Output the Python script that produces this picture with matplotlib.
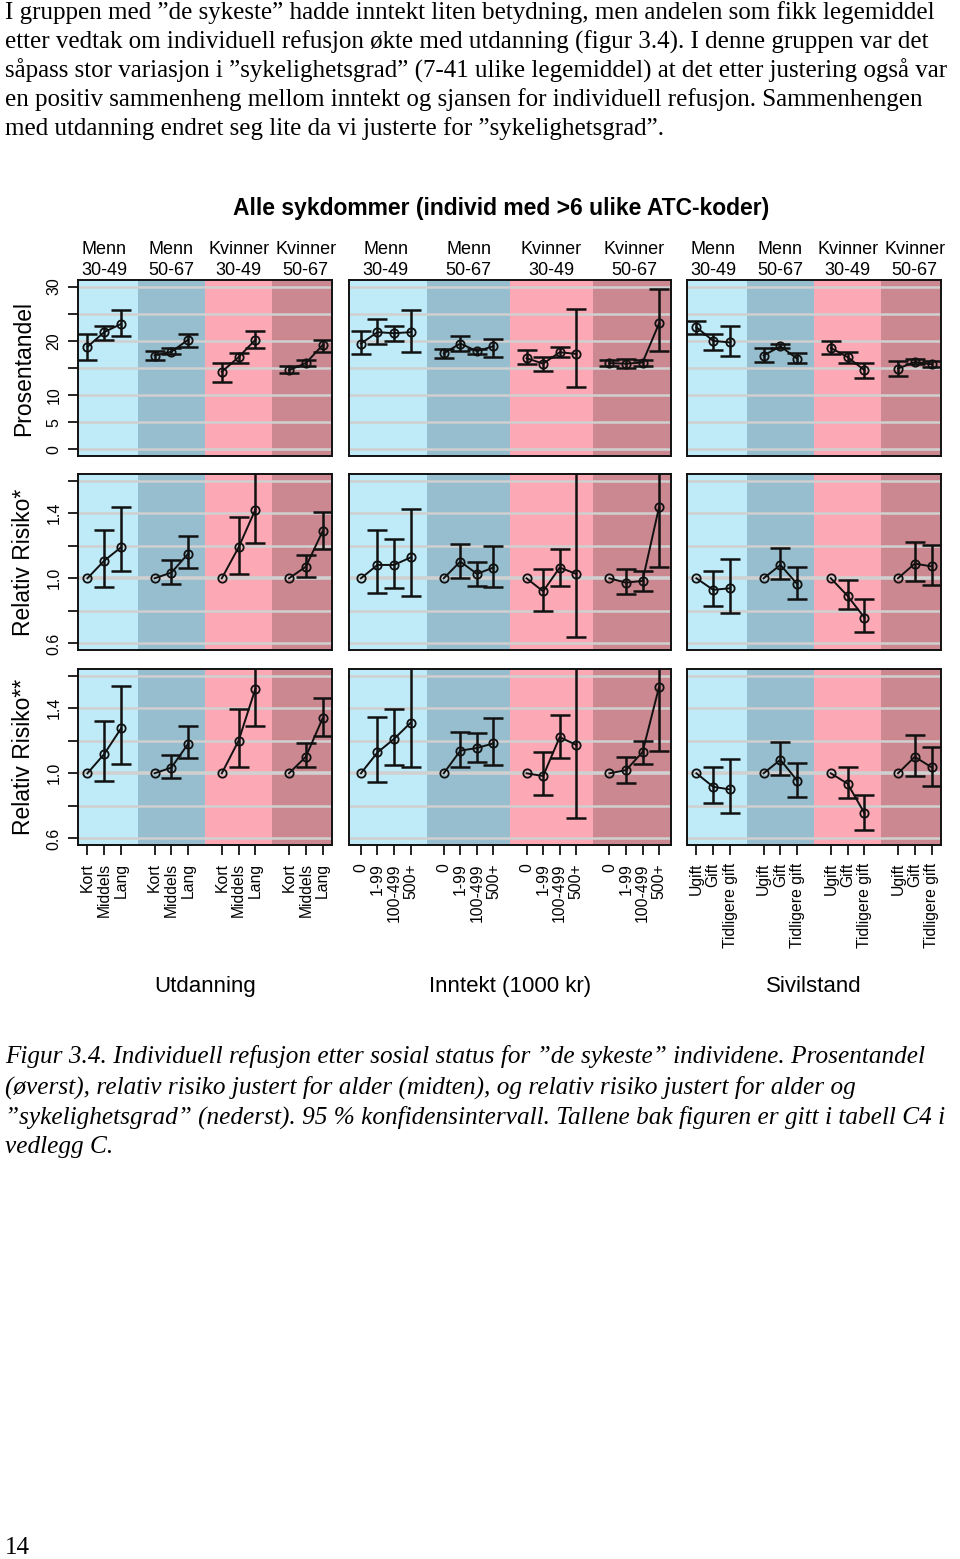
"""Individuell refusjon etter sosial status for "de sykeste" (figur 3.4)."""

import matplotlib

matplotlib.use("Agg")
import matplotlib.pyplot as plt
import numpy as np

nan = np.nan

# --- Data ---------------------------------------------------------------------
GROUPS = ["Menn\n30-49", "Menn\n50-67", "Kvinner\n30-49", "Kvinner\n50-67"]
EDU_CATS = ["Kort", "Middels", "Lang"]
INC_CATS = ["0", "1-99", "100-499", "500+"]
CIV_CATS = ["Ugift", "Gift", "Tidligere gift"]
PANEL_TITLES = ["Utdanning", "Inntekt (1000 kr)", "Sivilstand"]
ROW_LABELS = ["Prosentandel", "Relativ Risiko*", "Relativ Risiko**"]

# Prosentandel
EDU_PCT = [18.9, 21.6, 23.1, 17.3, 18.0, 20.2, 14.3, 17.0, 20.2, 14.6, 15.9, 19.2]
EDU_PCT_LO = [16.4, 20.2, 20.8, 16.4, 17.6, 18.9, 12.4, 15.9, 18.6, 14.0, 15.4, 18.0]
EDU_PCT_HI = [21.2, 22.7, 25.6, 18.2, 18.6, 21.2, 15.9, 17.8, 21.9, 15.4, 16.4, 20.2]

INC_PCT = [19.5, 21.6, 21.4, 21.6, 17.7, 19.5, 18.1, 19.0,
           16.8, 15.8, 17.9, 17.6, 15.9, 15.8, 16.0, 23.2]
INC_PCT_LO = [17.6, 19.5, 20.0, 17.9, 16.8, 18.2, 17.6, 17.0,
              15.7, 14.4, 17.1, 11.5, 15.4, 15.0, 15.4, 18.2]
INC_PCT_HI = [21.8, 24.0, 22.7, 25.6, 18.5, 20.8, 18.5, 20.4,
              18.4, 17.0, 18.8, 25.9, 16.5, 16.7, 16.5, 29.6]

CIV_PCT = [22.5, 20.0, 19.7, 17.3, 19.0, 16.7, 18.7, 17.0, 14.6, 14.9, 16.1, 15.7]
CIV_PCT_LO = [21.2, 18.4, 17.3, 16.1, 18.6, 15.9, 17.6, 15.9, 13.2, 13.5, 15.7, 15.1]
CIV_PCT_HI = [23.7, 21.2, 22.7, 18.6, 19.4, 17.7, 19.9, 18.0, 16.0, 16.3, 16.6, 16.3]

# Relativ risiko justert for alder
EDU_RR1 = [1.0, 1.108, 1.19, 1.0, 1.035, 1.151, 1.0, 1.19, 1.422, 1.0, 1.071, 1.288]
EDU_RR1_LO = [nan, 0.947, 1.047, nan, 0.963, 1.065, nan, 1.027, 1.218, nan, 1.010, 1.18]
EDU_RR1_HI = [nan, 1.296, 1.439, nan, 1.110, 1.261, nan, 1.378, 1.75, nan, 1.143, 1.404]

INC_RR1 = [1.0, 1.082, 1.082, 1.128, 1.0, 1.103, 1.027, 1.066,
           1.0, 0.92, 1.066, 1.027, 1.0, 0.973, 0.984, 1.437]
INC_RR1_LO = [nan, 0.909, 0.938, 0.891, nan, 1.0, 0.955, 0.946,
              nan, 0.80, 0.955, 0.639, nan, 0.901, 0.922, 1.072]
INC_RR1_HI = [nan, 1.299, 1.243, 1.427, nan, 1.208, 1.101, 1.2,
              nan, 1.056, 1.181, 1.9, nan, 1.054, 1.045, 1.9]

CIV_RR1 = [1.0, 0.929, 0.939, 1.0, 1.082, 0.965, 1.0, 0.892, 0.759, 1.0, 1.09, 1.073]
CIV_RR1_LO = [nan, 0.831, 0.784, nan, 0.994, 0.876, nan, 0.814, 0.669, nan, 0.984, 0.957]
CIV_RR1_HI = [nan, 1.045, 1.116, nan, 1.188, 1.069, nan, 0.99, 0.873, nan, 1.224, 1.206]

# Relativ risiko justert for alder og sykelighetsgrad
EDU_RR2 = [1.0, 1.118, 1.275, 1.0, 1.035, 1.182, 1.0, 1.2, 1.519, 1.0, 1.101, 1.337]
EDU_RR2_LO = [nan, 0.955, 1.056, nan, 0.973, 1.093, nan, 1.037, 1.291, nan, 1.037, 1.227]
EDU_RR2_HI = [nan, 1.32, 1.537, nan, 1.11, 1.291, nan, 1.393, 1.8, nan, 1.186, 1.463]

INC_RR2 = [1.0, 1.128, 1.211, 1.31, 1.0, 1.139, 1.155, 1.184,
           1.0, 0.983, 1.222, 1.174, 1.0, 1.019, 1.13, 1.53]
INC_RR2_LO = [nan, 0.948, 1.048, 1.039, nan, 1.037, 1.072, 1.048,
              nan, 0.865, 1.091, 0.727, nan, 0.938, 1.056, 1.139]
INC_RR2_HI = [nan, 1.348, 1.395, 1.75, nan, 1.255, 1.246, 1.34,
              nan, 1.128, 1.356, 1.85, nan, 1.101, 1.199, 2.0]

CIV_RR2 = [1.0, 0.917, 0.901, 1.0, 1.083, 0.955, 1.0, 0.936, 0.756, 1.0, 1.101, 1.037]
CIV_RR2_LO = [nan, 0.818, 0.754, nan, 0.992, 0.855, nan, 0.849, 0.655, nan, 0.981, 0.919]
CIV_RR2_HI = [nan, 1.037, 1.085, nan, 1.192, 1.064, nan, 1.037, 0.864, nan, 1.237, 1.161]

PARA_LINES = [
    "I gruppen med \u201dde sykeste\u201d hadde inntekt liten betydning, men andelen som fikk legemiddel",
    "etter vedtak om individuell refusjon økte med utdanning (figur 3.4). I denne gruppen var det",
    "såpass stor variasjon i \u201dsykelighetsgrad\u201d (7-41 ulike legemiddel) at det etter justering også var",
    "en positiv sammenheng mellom inntekt og sjansen for individuell refusjon. Sammenhengen",
    "med utdanning endret seg lite da vi justerte for \u201dsykelighetsgrad\u201d.",
]
CAPTION_LINES = [
    "Figur 3.4. Individuell refusjon etter sosial status for \u201dde sykeste\u201d individene. Prosentandel",
    "(øverst), relativ risiko justert for alder (midten), og relativ risiko justert for alder og",
    "\u201dsykelighetsgrad\u201d (nederst). 95 % konfidensintervall. Tallene bak figuren er gitt i tabell C4 i",
    "vedlegg C.",
]
TITLE = "Alle sykdommer (individ med >6 ulike ATC-koder)"
PAGE_NO = "14"

# --- Style --------------------------------------------------------------------
W, H = 960, 1559
BAND_COLORS = ["#bfeaf8", "#97bece", "#fca8b5", "#cc8890"]
GRID_COLOR = "#d0d0d0"
SANS = "Liberation Sans"
SERIF = "Liberation Serif"

PANEL_X = [(78, 332), (349, 671), (687, 941)]
ROW_Y = [(280, 456), (474, 650), (669, 845)]

PCT_TICKS = [0, 5, 10, 15, 20, 25, 30]
PCT_LABELS = ["0", "5", "10", "", "20", "", "30"]
RR_TICKS = [0.6, 0.8, 1.0, 1.2, 1.4, 1.6]
RR_LABELS = ["0.6", "", "1.0", "", "1.4", ""]


def positions(n_cats):
    """x positions: groups of n_cats separated by one empty slot."""
    return np.array([g * (n_cats + 1) + i + 1 for g in range(4) for i in range(n_cats)])


def draw_panel(ax, cats, vals, lo, hi, row):
    k = len(cats)
    x = positions(k)
    last = x[-1]
    pad = 0.04 * (last - 1)
    xlim = (1 - pad, last + pad)
    edges = [xlim[0], k + 1, 2 * (k + 1), 3 * (k + 1), xlim[1]]
    for i, col in enumerate(BAND_COLORS):
        ax.axvspan(edges[i], edges[i + 1], color=col, lw=0, zorder=0.2)

    vals = np.asarray(vals, dtype=float)
    lo = np.asarray(lo, dtype=float)
    hi = np.asarray(hi, dtype=float)
    m = np.isfinite(lo)
    ax.errorbar(x[m], vals[m], yerr=[vals[m] - lo[m], hi[m] - vals[m]], fmt="none",
                ecolor="#111111", elinewidth=1.8, capsize=7.5, capthick=1.8, zorder=3)
    for g in range(4):
        sl = slice(g * k, (g + 1) * k)
        ax.plot(x[sl], vals[sl], "-o", color="#111111", lw=1.4, ms=6, mfc="none",
                mew=1.3, zorder=4)

    ax.set_xlim(*xlim)
    if row == 0:
        ax.set_ylim(-1.2, 31.2)
        ax.set_yticks(PCT_TICKS)
    else:
        ax.set_ylim(0.56, 1.64)
        ax.set_yticks(RR_TICKS)
    for t in ax.get_yticks():
        lw = 2.6 if (row > 0 and abs(t - 1.0) < 1e-9) else 1.8
        ax.axhline(t, color=GRID_COLOR, lw=lw, zorder=0.5)
    for s in ax.spines.values():
        s.set_linewidth(1.4)
        s.set_color("#111111")
    ax.set_xticks(x)
    return x


def main():
    fig = plt.figure(figsize=(W / 100, H / 100), dpi=100)

    data = [
        [(EDU_PCT, EDU_PCT_LO, EDU_PCT_HI), (INC_PCT, INC_PCT_LO, INC_PCT_HI),
         (CIV_PCT, CIV_PCT_LO, CIV_PCT_HI)],
        [(EDU_RR1, EDU_RR1_LO, EDU_RR1_HI), (INC_RR1, INC_RR1_LO, INC_RR1_HI),
         (CIV_RR1, CIV_RR1_LO, CIV_RR1_HI)],
        [(EDU_RR2, EDU_RR2_LO, EDU_RR2_HI), (INC_RR2, INC_RR2_LO, INC_RR2_HI),
         (CIV_RR2, CIV_RR2_LO, CIV_RR2_HI)],
    ]
    cats_all = [EDU_CATS, INC_CATS, CIV_CATS]

    for r, (y0, y1) in enumerate(ROW_Y):
        for c, (x0, x1) in enumerate(PANEL_X):
            ax = fig.add_axes([x0 / W, 1 - y1 / H, (x1 - x0) / W, (y1 - y0) / H])
            cats = cats_all[c]
            x = draw_panel(ax, cats, *data[r][c], row=r)

            # y axis
            if c == 0:
                labels = PCT_LABELS if r == 0 else RR_LABELS
                ax.set_yticklabels(labels, rotation=90, va="center",
                                   family=SANS, fontsize=11.5)
                ax.tick_params(axis="y", length=7, width=1.2, pad=5)
            else:
                ax.tick_params(axis="y", left=False, labelleft=False)

            # x axis
            if r == 2:
                ax.set_xticklabels(cats * 4, rotation=90, family=SANS, fontsize=11.3)
                ax.tick_params(axis="x", length=7, width=1.2, pad=6)
            else:
                ax.tick_params(axis="x", bottom=False, labelbottom=False)

            # group labels above the top row
            if r == 0:
                k = len(cats)
                for g, name in enumerate(GROUPS):
                    xc = x[g * k:(g + 1) * k].mean()
                    ax.annotate(name, xy=(xc, 1), xycoords=("data", "axes fraction"),
                                xytext=(0, 1), textcoords="offset points",
                                ha="center", va="bottom", family=SANS, fontsize=13,
                                linespacing=1.25)
            if r == 2:
                fig.text((x0 + x1) / 2 / W, 1 - 986 / H, PANEL_TITLES[c],
                         ha="center", va="center", family=SANS, fontsize=16)

        fig.text(24 / W, 1 - (y0 + y1) / 2 / H, ROW_LABELS[r], rotation=90,
                 ha="center", va="center", family=SANS, fontsize=16.5)

    fig.text(501 / W, 1 - 208 / H, TITLE, ha="center", va="center",
             family=SANS, fontsize=16.5, fontweight="bold")

    for i, line in enumerate(PARA_LINES):
        fig.text(5 / W, 1 - (13 + 29 * i) / H, line, ha="left", va="center",
                 family=SERIF, fontsize=18)
    for i, line in enumerate(CAPTION_LINES):
        fig.text(5 / W, 1 - (1057 + 30 * i) / H, line, ha="left", va="center",
                 family=SERIF, fontsize=18.2, style="italic")
    fig.text(5 / W, 1 - 1548 / H, PAGE_NO, ha="left", va="center",
             family=SERIF, fontsize=18)

    fig.savefig("out.png", dpi=100)


if __name__ == "__main__":
    main()
